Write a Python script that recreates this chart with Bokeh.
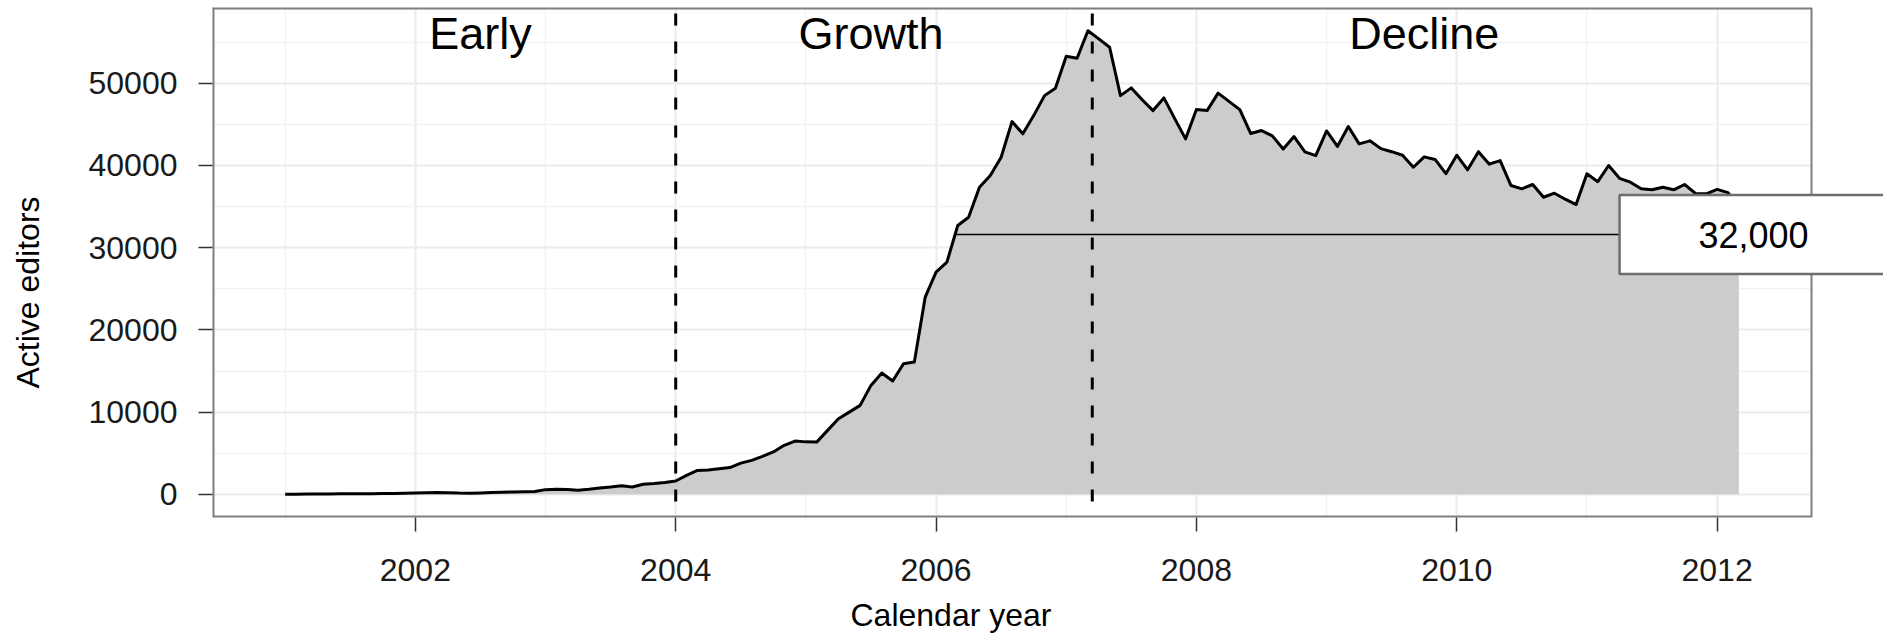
from bokeh.plotting import figure
from bokeh.models import Range1d, FixedTicker, Span, Title
from bokeh.core.properties import value
from bokeh.embed import file_html
from bokeh.resources import INLINE

# ---------------- data ----------------
start_year = 2001
editors = [
    # 2001
    10, 15, 25, 35, 45, 55, 60, 70, 80, 95, 110, 130,
    # 2002
    150, 180, 220, 190, 150, 140, 170, 210, 260, 290, 310, 340,
    # 2003
    570, 620, 590, 500, 620, 770, 880, 1050, 900, 1220, 1320, 1450,
    # 2004
    1620, 2300, 2900, 2950, 3120, 3250, 3800, 4130, 4620, 5150, 5960, 6480,
    # 2005
    6380, 6350, 7780, 9200, 10000, 10820, 13250, 14750, 13780, 15890, 16090, 24000,
    # 2006
    27030, 28240, 32700, 33710, 37360, 38780, 41000, 45340, 43850, 46070, 48500, 49400,
    # 2007
    53290, 53040, 56400, 55400, 54380, 48500, 49440, 48000, 46680, 48220, 45700, 43240,
    # 2008
    46800, 46700, 48800, 47800, 46800, 43900, 44250, 43600, 42000, 43520, 41650, 41210,
    # 2009
    44200, 42320, 44750, 42630, 43000, 42050, 41680, 41250, 39790, 41050, 40740, 39000,
    # 2010
    41250, 39470, 41680, 40160, 40600, 37560, 37160, 37690, 36140, 36630, 35900, 35250,
    # 2011
    38990, 38030, 40000, 38440, 37970, 37160, 37060, 37360, 37040, 37690, 36600, 36550,
    # 2012
    37100, 36700, 35000,
]
years = [start_year + i / 12 for i in range(len(editors))]

phase_breaks = [2004.0, 2007.2]
phase_names = ["Early", "Growth", "Decline"]
phase_x = [2002.5, 2005.5, 2009.75]
phase_y = 56100

x_ticks = [2002, 2004, 2006, 2008, 2010, 2012]
x_minor = [2001, 2003, 2005, 2007, 2009, 2011]
y_ticks = [0, 10000, 20000, 30000, 40000, 50000]
y_minor = [5000, 15000, 25000, 35000, 45000, 55000]

callout_value = 31600
callout_text = "32,000"
callout_x = 2012.28

x_title = "Calendar year"
y_title = "Active editors"

# ---------------- layout constants (pixels) ----------------
W, H = 1883, 633
FRAME_LEFT, FRAME_TOP, FRAME_BOTTOM_PAD = 212, 7, 116
PANEL_W = 1599                 # visible panel width (the boxed plot area)
FRAME_W = W - FRAME_LEFT       # frame runs to the right canvas edge so the callout box can overhang
FONT = "Liberation Sans"

# ranges (5% expansion like the original)
x_lo, x_hi = min(years), max(years)
x_pad = 0.05 * (x_hi - x_lo)
lo = x_lo - x_pad
panel_right = x_hi + x_pad
hi = lo + (panel_right - lo) * FRAME_W / PANEL_W
y_lo, y_hi = 0, max(editors)
y_pad = 0.05 * (y_hi - y_lo)
ylo, yhi = y_lo - y_pad, y_hi + y_pad

p = figure(
    width=W, height=H,
    x_range=Range1d(lo, hi), y_range=Range1d(ylo, yhi),
    output_backend="svg", toolbar_location=None,
    min_border_left=FRAME_LEFT, min_border_right=0,
    min_border_top=FRAME_TOP, min_border_bottom=FRAME_BOTTOM_PAD,
)
p.background_fill_color = "white"
p.border_fill_color = "white"
p.outline_line_color = None

# axes
p.xaxis.ticker = FixedTicker(ticks=x_ticks, minor_ticks=x_minor)
p.yaxis.ticker = FixedTicker(ticks=y_ticks, minor_ticks=y_minor)
p.xaxis.major_label_overrides = {t: str(t) for t in x_ticks}
p.yaxis.major_label_overrides = {t: str(t) for t in y_ticks}
for ax in (p.xaxis, p.yaxis):
    ax.axis_line_color = None
    ax.major_tick_out = 14
    ax.major_tick_in = 0
    ax.minor_tick_out = 0
    ax.minor_tick_in = 0
    ax.major_tick_line_color = "#333333"
    ax.major_tick_line_width = 1.5
    ax.major_label_text_font = FONT
    ax.major_label_text_font_size = "32px"
    ax.major_label_text_color = "#1A1A1A"
p.yaxis.major_label_standoff = 21
p.xaxis.major_label_standoff = 27

# grids
for g in (p.xgrid, p.ygrid):
    g.grid_line_color = "#EBEBEB"
    g.grid_line_width = 2
    g.minor_grid_line_color = "#F2F2F2"
    g.minor_grid_line_width = 1.5

# white cover for the part of the frame right of the visible panel
p.quad(left=[panel_right], right=[hi], bottom=[ylo], top=[yhi],
       fill_color="white", line_color=None)

# area + line
p.varea(x=years, y1=[0] * len(editors), y2=editors, fill_color="#CCCCCC")
p.line(years, editors, line_color="black", line_width=3, line_join="round")

# phase boundaries
for b in phase_breaks:
    p.add_layout(Span(location=b, dimension="height", line_color="black",
                      line_width=3, line_dash="12 16", line_dash_offset=22))

# phase names
p.text(x=phase_x, y=[phase_y] * len(phase_x), text=phase_names,
       text_font=value(FONT), text_font_size="45px", text_color="black",
       text_align="center", text_baseline="alphabetic")

# panel border
BORDER = "#7F7F7F"
p.segment(x0=[lo, lo, lo], y0=[ylo, yhi, ylo], x1=[lo, panel_right, panel_right], y1=[yhi, yhi, ylo],
          line_color=BORDER, line_width=4)
p.segment(x0=[panel_right], y0=[ylo], x1=[panel_right], y1=[yhi], line_color=BORDER, line_width=2)

# callout line from where the curve first reaches the value
i = next(k for k, v in enumerate(editors) if v >= callout_value)
x_cross = years[i - 1] + (callout_value - editors[i - 1]) / (editors[i] - editors[i - 1]) * (years[i] - years[i - 1])
p.segment(x0=[x_cross], y0=[callout_value], x1=[callout_x], y1=[callout_value],
          line_color="black", line_width=1.5)

# callout box
p.rect(x=[callout_x], y=[callout_value], width=268, height=79,
       width_units="screen", height_units="screen",
       fill_color="white", line_color="#6E6E6E", line_width=2.5)
p.text(x=[callout_x], y=[callout_value], text=[callout_text],
       text_font=value(FONT), text_font_size="36px", text_color="black",
       text_align="center", text_baseline="middle")

# axis titles (as side-panel titles so they can be positioned like the original)
p.add_layout(Title(text=" ", text_font_size="1px", standoff=35), "left")
p.add_layout(Title(text=y_title, align="left", offset=129, vertical_align="bottom", standoff=4,
                   text_font=FONT, text_font_size="32px", text_font_style="normal",
                   text_color="black"), "left")
p.add_layout(Title(text=" ", text_font_size="1px", standoff=8), "below")
p.add_layout(Title(text=x_title, align="left", offset=638, vertical_align="bottom", standoff=0,
                   text_font=FONT, text_font_size="32px", text_font_style="normal",
                   text_color="black"), "below")

open("out.html", "w").write(file_html(p, INLINE))
